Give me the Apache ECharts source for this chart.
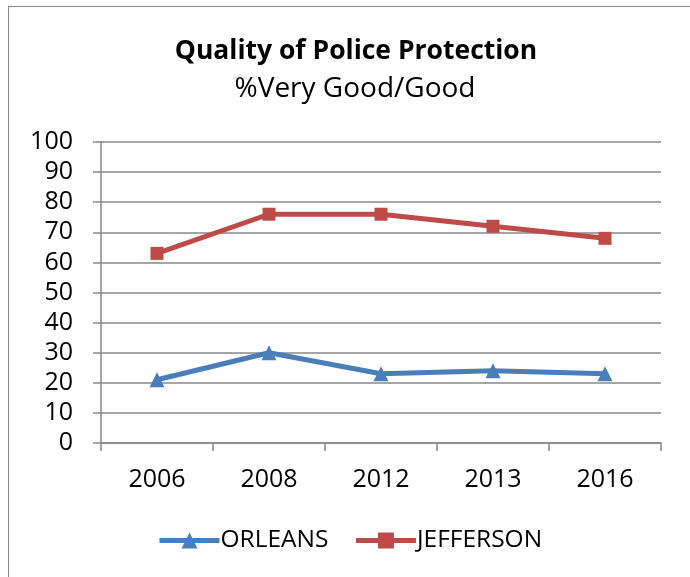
<!DOCTYPE html>
<html><head><meta charset="utf-8">
<script src="https://cdn.jsdelivr.net/npm/echarts@6/dist/echarts.min.js"></script>
<style>html,body{margin:0;padding:0;background:#fff}#c{width:690px;height:577px}
#b{position:absolute;left:8px;top:6px;width:700px;height:600px;border:1.5px solid #898989;pointer-events:none}</style>
</head><body><div id="c"></div><div id="b"></div>
<script>
const categories = ['2006','2008','2012','2013','2016'];
const orleans = [21,30,23,24,23];
const jefferson = [63,76,76,72,68];
const F = '"Open Sans", Lato, sans-serif';
const chart = echarts.init(document.getElementById('c'));
chart.setOption({
  animation:false,
  title:[
    {text:'Quality of Police Protection',left:351,textAlign:'center',top:33,textStyle:{fontFamily:F,fontSize:26.5,fontWeight:'bold',color:'#000'}},
    {text:'%Very Good/Good',left:350,textAlign:'center',top:70,textStyle:{fontFamily:F,fontSize:28,fontWeight:'normal',color:'#000'}}
  ],
  grid:{left:101,right:29,top:142,bottom:134},
  legend:{bottom:24,left:157,padding:0,itemWidth:60,itemHeight:20,itemGap:25,
    lineStyle:{width:5},
    textStyle:{fontFamily:F,fontSize:24.5,color:'#000',padding:[0,0,0,-4]},
    data:['ORLEANS','JEFFERSON']},
  xAxis:{type:'category',data:categories,boundaryGap:true,
    axisLine:{lineStyle:{color:'#888',width:1.5}},
    axisTick:{show:true,length:8,lineStyle:{color:'#888',width:1.5}},
    axisLabel:{fontFamily:F,fontSize:25,color:'#000',margin:24}},
  yAxis:{type:'value',min:0,max:100,interval:10,
    axisLine:{show:true,lineStyle:{color:'#888',width:1.5}},
    axisTick:{show:true,length:8,lineStyle:{color:'#888',width:1.5}},
    splitLine:{lineStyle:{color:'#888',width:1.5}},
    axisLabel:{fontFamily:F,fontSize:25,color:'#000',margin:28}},
  series:[
    {name:'ORLEANS',type:'line',data:orleans,symbol:'triangle',symbolSize:15,
      lineStyle:{color:'#4a7ebb',width:5},itemStyle:{color:'#4a7ebb'}},
    {name:'JEFFERSON',type:'line',data:jefferson,symbol:'rect',symbolSize:13,
      lineStyle:{color:'#be4b48',width:5},itemStyle:{color:'#be4b48'}}
  ]
});
</script></body></html>
